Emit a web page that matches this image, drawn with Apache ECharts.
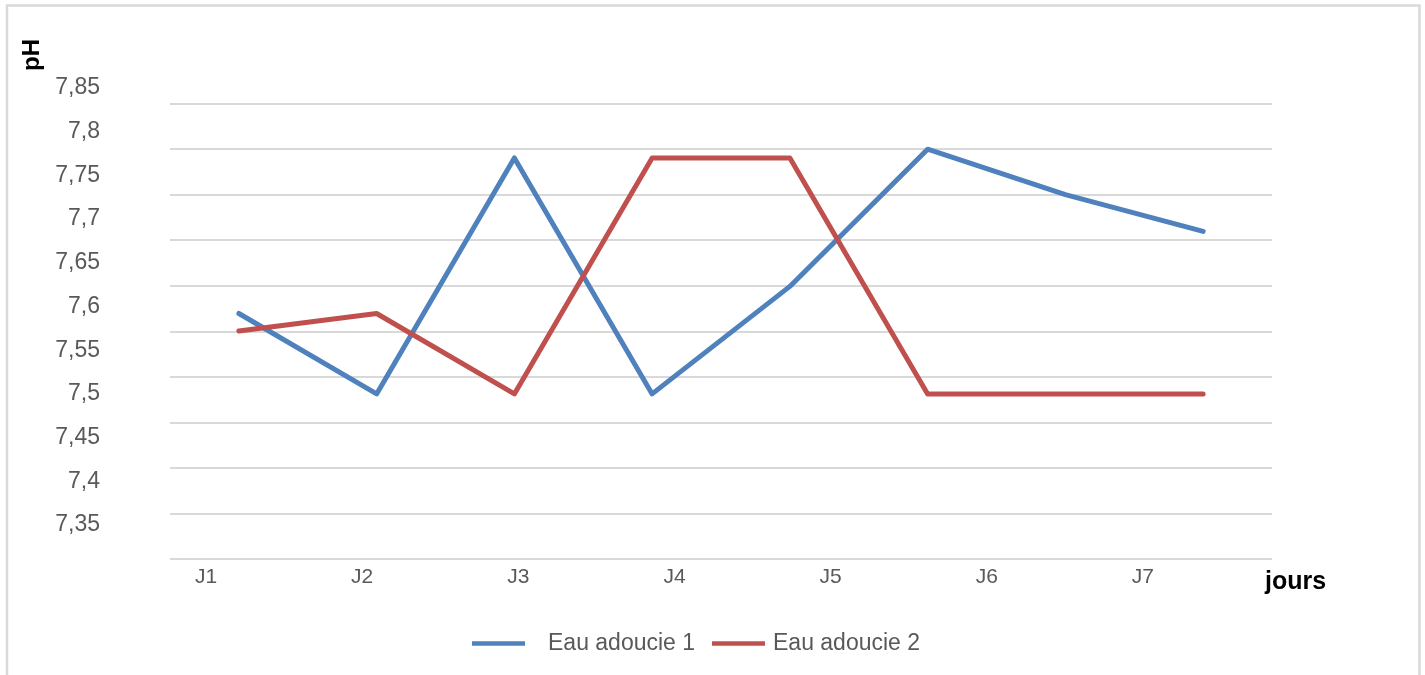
<!DOCTYPE html>
<html>
<head>
<meta charset="utf-8">
<script src="https://cdn.jsdelivr.net/npm/echarts@6/dist/echarts.min.js"></script>
<style>
html,body{margin:0;padding:0;background:#fff;}
#chart{width:1425px;height:675px;}
</style>
</head>
<body>
<div id="chart"></div>
<script>
// ---- data ----
var dataCategories = ['J1', 'J2', 'J3', 'J4', 'J5', 'J6', 'J7', 'J8'];
var tickLabels = ['J1', 'J2', 'J3', 'J4', 'J5', 'J6', 'J7'];
var seriesNames = ['Eau adoucie 1', 'Eau adoucie 2'];
var eauAdoucie1 = [7.592, 7.50, 7.77, 7.50, 7.623, 7.78, 7.728, 7.686];
var eauAdoucie2 = [7.572, 7.592, 7.50, 7.77, 7.77, 7.50, 7.50, 7.50];
var yMin = 7.35, yMax = 7.85, yStep = 0.05;
var gridLineCount = 10;

var FONT = 'Liberation Sans, Arial, sans-serif';
var GREY = '#595959';

var chart = echarts.init(document.getElementById('chart'));
var option = {
  backgroundColor: '#ffffff',
  animation: false,
  grid: [
    { left: 170, right: 153, top: 103.5, bottom: 116 },
    { left: 170, right: 153, top: 88, bottom: 150 },
    { left: 128, right: 204, top: 103.5, bottom: 116 }
  ],
  xAxis: [
    { gridIndex: 0, type: 'category', data: dataCategories, show: false },
    { gridIndex: 1, type: 'category', data: dataCategories, boundaryGap: true, show: false },
    { gridIndex: 2, type: 'category', data: tickLabels, boundaryGap: true,
      axisLine: { show: false }, axisTick: { show: false }, splitLine: { show: false },
      axisLabel: { margin: 8, color: GREY, fontSize: 21, fontFamily: FONT } }
  ],
  yAxis: [
    { gridIndex: 0, type: 'value', min: 0, max: gridLineCount, interval: 1,
      axisLine: { show: false }, axisTick: { show: false }, axisLabel: { show: false },
      splitLine: { show: true, lineStyle: { color: '#d9d9d9', width: 2 } } },
    { gridIndex: 1, type: 'value', min: yMin, max: yMax, interval: yStep,
      axisLine: { show: false }, axisTick: { show: false }, splitLine: { show: false },
      axisLabel: { margin: 70, color: GREY, fontSize: 23, fontFamily: FONT,
        formatter: function (v) { return v.toFixed(2).replace(/0$/, '').replace('.', ','); } } },
    { gridIndex: 2, type: 'value', show: false }
  ],
  legend: [
    { data: [seriesNames[0]], left: 467, top: 627, icon: 'rect', itemWidth: 53, itemHeight: 4.5, itemGap: 0,
      textStyle: { color: GREY, fontSize: 23, fontFamily: FONT, padding: [0, 0, 0, 18] } },
    { data: [seriesNames[1]], left: 707, top: 627, icon: 'rect', itemWidth: 53, itemHeight: 4.5, itemGap: 0,
      textStyle: { color: GREY, fontSize: 23, fontFamily: FONT, padding: [0, 0, 0, 3] } }
  ],
  series: [
    { name: seriesNames[0], type: 'line', xAxisIndex: 1, yAxisIndex: 1, data: eauAdoucie1,
      symbol: 'none', showSymbol: false, color: '#4f81bd',
      lineStyle: { color: '#4f81bd', width: 5, cap: 'round', join: 'round' } },
    { name: seriesNames[1], type: 'line', xAxisIndex: 1, yAxisIndex: 1, data: eauAdoucie2,
      symbol: 'none', showSymbol: false, color: '#c0504d',
      lineStyle: { color: '#c0504d', width: 5, cap: 'round', join: 'round' } }
  ],
  graphic: [
    { type: 'rect', silent: true, z: -1,
      shape: { x: 7, y: 5.5, width: 1412.5, height: 720 },
      style: { fill: 'none', stroke: '#d9d9d9', lineWidth: 2.5 } },
    { type: 'text', x: 32, y: 55, rotation: Math.PI / 2,
      style: { text: 'pH', fill: '#000', font: 'bold 24px ' + FONT, align: 'center', verticalAlign: 'middle' } },
    { type: 'text', x: 1265, y: 582,
      style: { text: 'jours', fill: '#000', font: 'bold 25px ' + FONT, align: 'left', verticalAlign: 'middle' } }
  ]
};
chart.setOption(option);
</script>
</body>
</html>
